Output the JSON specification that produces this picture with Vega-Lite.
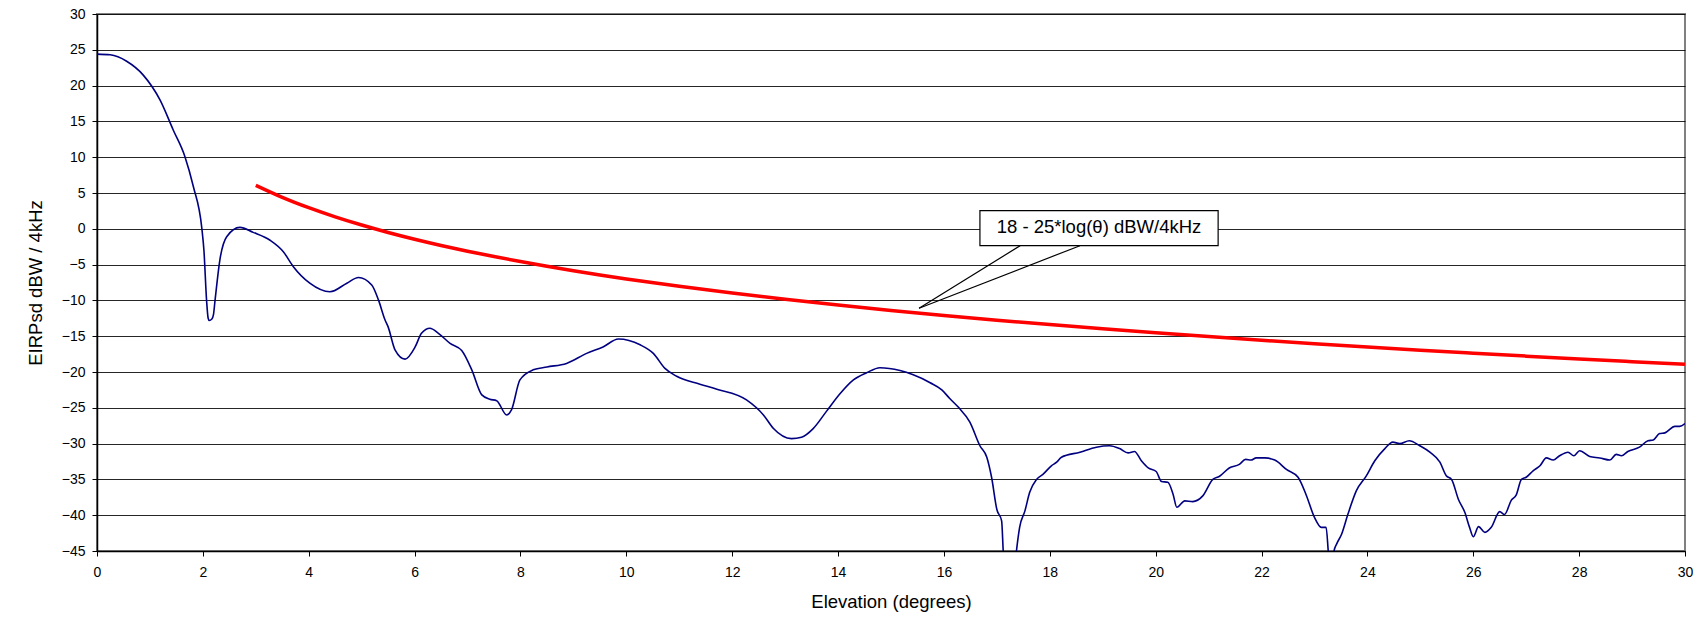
{
  "$schema": "https://vega.github.io/schema/vega-lite/v6.json",
  "description": "EIRPsd off-axis pattern vs 18 - 25log(theta) mask",
  "autosize": "none",
  "width": 1588,
  "height": 537,
  "padding": {"left": 97, "top": 14, "right": 21, "bottom": 88},
  "background": "white",
  "datasets": {
    "pattern": [
      {"elev": 0, "eirp": 24.4}, {"elev": 0.25, "eirp": 24.3}, {"elev": 0.56, "eirp": 23.4},
      {"elev": 0.87, "eirp": 21.5}, {"elev": 1.19, "eirp": 18.0}, {"elev": 1.44, "eirp": 13.8},
      {"elev": 1.66, "eirp": 10.1}, {"elev": 1.82, "eirp": 5.9}, {"elev": 1.98, "eirp": 0.1},
      {"elev": 2.02, "eirp": -3.0}, {"elev": 2.07, "eirp": -10.0}, {"elev": 2.10, "eirp": -12.5},
      {"elev": 2.12, "eirp": -12.8}, {"elev": 2.17, "eirp": -12.6}, {"elev": 2.20, "eirp": -12.0},
      {"elev": 2.23, "eirp": -10.0}, {"elev": 2.32, "eirp": -4.4}, {"elev": 2.45, "eirp": -1.1},
      {"elev": 2.70, "eirp": 0.2}, {"elev": 2.95, "eirp": -0.5}, {"elev": 3.27, "eirp": -1.6},
      {"elev": 3.52, "eirp": -3.2}, {"elev": 3.71, "eirp": -5.3}, {"elev": 4.02, "eirp": -7.6},
      {"elev": 4.40, "eirp": -8.8}, {"elev": 4.72, "eirp": -7.6}, {"elev": 4.94, "eirp": -6.8},
      {"elev": 5.19, "eirp": -7.85}, {"elev": 5.32, "eirp": -10.0}, {"elev": 5.44, "eirp": -12.7},
      {"elev": 5.50, "eirp": -13.7}, {"elev": 5.63, "eirp": -16.9}, {"elev": 5.82, "eirp": -18.2},
      {"elev": 6.01, "eirp": -16.5}, {"elev": 6.13, "eirp": -14.6}, {"elev": 6.29, "eirp": -13.9},
      {"elev": 6.45, "eirp": -14.6}, {"elev": 6.67, "eirp": -16.0}, {"elev": 6.89, "eirp": -17.0},
      {"elev": 7.08, "eirp": -19.7}, {"elev": 7.27, "eirp": -23.2}, {"elev": 7.42, "eirp": -23.8},
      {"elev": 7.55, "eirp": -24.0}, {"elev": 7.74, "eirp": -26.0}, {"elev": 7.83, "eirp": -25.3},
      {"elev": 7.99, "eirp": -21.1}, {"elev": 8.24, "eirp": -19.7}, {"elev": 8.50, "eirp": -19.3},
      {"elev": 8.87, "eirp": -18.8}, {"elev": 9.25, "eirp": -17.4}, {"elev": 9.56, "eirp": -16.5},
      {"elev": 9.85, "eirp": -15.4}, {"elev": 10.26, "eirp": -16.2}, {"elev": 10.51, "eirp": -17.4},
      {"elev": 10.73, "eirp": -19.5}, {"elev": 10.95, "eirp": -20.6}, {"elev": 11.39, "eirp": -21.7},
      {"elev": 11.71, "eirp": -22.4}, {"elev": 12.27, "eirp": -23.9}, {"elev": 12.59, "eirp": -26.0},
      {"elev": 12.78, "eirp": -27.9}, {"elev": 13.12, "eirp": -29.3}, {"elev": 13.31, "eirp": -29.1},
      {"elev": 13.53, "eirp": -27.9}, {"elev": 13.78, "eirp": -25.5}, {"elev": 14.04, "eirp": -23.0},
      {"elev": 14.29, "eirp": -21.1}, {"elev": 14.54, "eirp": -20.1}, {"elev": 14.79, "eirp": -19.4},
      {"elev": 15.17, "eirp": -19.8}, {"elev": 15.42, "eirp": -20.4}, {"elev": 15.74, "eirp": -21.5},
      {"elev": 15.96, "eirp": -22.5}, {"elev": 16.11, "eirp": -23.7}, {"elev": 16.27, "eirp": -24.9},
      {"elev": 16.49, "eirp": -27.0}, {"elev": 16.68, "eirp": -30.3}, {"elev": 16.81, "eirp": -31.9},
      {"elev": 16.90, "eirp": -34.7}, {"elev": 17.00, "eirp": -39.2}, {"elev": 17.09, "eirp": -40.8},
      {"elev": 17.12, "eirp": -45.0}, {"elev": 17.25, "eirp": -55.0}, {"elev": 17.37, "eirp": -45.0},
      {"elev": 17.43, "eirp": -41.7}, {"elev": 17.53, "eirp": -39.4}, {"elev": 17.62, "eirp": -36.8},
      {"elev": 17.75, "eirp": -35.0}, {"elev": 17.87, "eirp": -34.3}, {"elev": 18.03, "eirp": -33.1},
      {"elev": 18.13, "eirp": -32.6}, {"elev": 18.22, "eirp": -31.9}, {"elev": 18.57, "eirp": -31.2},
      {"elev": 18.88, "eirp": -30.5}, {"elev": 19.13, "eirp": -30.3}, {"elev": 19.32, "eirp": -30.7},
      {"elev": 19.48, "eirp": -31.3}, {"elev": 19.60, "eirp": -31.1}, {"elev": 19.73, "eirp": -32.4},
      {"elev": 19.86, "eirp": -33.4}, {"elev": 20.01, "eirp": -33.9}, {"elev": 20.11, "eirp": -35.3},
      {"elev": 20.23, "eirp": -35.4}, {"elev": 20.33, "eirp": -37.1}, {"elev": 20.40, "eirp": -38.9},
      {"elev": 20.55, "eirp": -38.0}, {"elev": 20.70, "eirp": -38.1}, {"elev": 20.89, "eirp": -37.3},
      {"elev": 21.08, "eirp": -35.0}, {"elev": 21.20, "eirp": -34.6}, {"elev": 21.39, "eirp": -33.4},
      {"elev": 21.58, "eirp": -32.9}, {"elev": 21.70, "eirp": -32.2}, {"elev": 21.80, "eirp": -32.3},
      {"elev": 21.90, "eirp": -32.0}, {"elev": 22.06, "eirp": -32.0}, {"elev": 22.25, "eirp": -32.3},
      {"elev": 22.47, "eirp": -33.6}, {"elev": 22.69, "eirp": -34.7}, {"elev": 22.84, "eirp": -37.1},
      {"elev": 23.00, "eirp": -40.3}, {"elev": 23.13, "eirp": -41.7}, {"elev": 23.22, "eirp": -41.7},
      {"elev": 23.26, "eirp": -45.0}, {"elev": 23.31, "eirp": -50.0}, {"elev": 23.37, "eirp": -45.0},
      {"elev": 23.42, "eirp": -44.0}, {"elev": 23.51, "eirp": -42.7}, {"elev": 23.63, "eirp": -39.9},
      {"elev": 23.79, "eirp": -36.6}, {"elev": 23.98, "eirp": -34.5}, {"elev": 24.14, "eirp": -32.4},
      {"elev": 24.33, "eirp": -30.7}, {"elev": 24.48, "eirp": -29.8}, {"elev": 24.61, "eirp": -30.0},
      {"elev": 24.79, "eirp": -29.6}, {"elev": 24.99, "eirp": -30.3}, {"elev": 25.18, "eirp": -31.2},
      {"elev": 25.37, "eirp": -32.6}, {"elev": 25.49, "eirp": -34.5}, {"elev": 25.59, "eirp": -35.0},
      {"elev": 25.72, "eirp": -37.8}, {"elev": 25.84, "eirp": -39.6}, {"elev": 25.93, "eirp": -41.7},
      {"elev": 26.00, "eirp": -43.0}, {"elev": 26.10, "eirp": -41.6}, {"elev": 26.22, "eirp": -42.4},
      {"elev": 26.34, "eirp": -41.7}, {"elev": 26.50, "eirp": -39.5}, {"elev": 26.59, "eirp": -39.9},
      {"elev": 26.72, "eirp": -37.9}, {"elev": 26.81, "eirp": -37.2}, {"elev": 26.91, "eirp": -35.0},
      {"elev": 27.00, "eirp": -34.7}, {"elev": 27.13, "eirp": -33.8}, {"elev": 27.26, "eirp": -33.1},
      {"elev": 27.38, "eirp": -32.0}, {"elev": 27.51, "eirp": -32.3}, {"elev": 27.63, "eirp": -31.7},
      {"elev": 27.79, "eirp": -31.2}, {"elev": 27.90, "eirp": -31.7}, {"elev": 28.01, "eirp": -31.0},
      {"elev": 28.20, "eirp": -31.8}, {"elev": 28.39, "eirp": -32.0}, {"elev": 28.58, "eirp": -32.3},
      {"elev": 28.70, "eirp": -31.5}, {"elev": 28.80, "eirp": -31.7}, {"elev": 28.92, "eirp": -31.1},
      {"elev": 29.14, "eirp": -30.5}, {"elev": 29.30, "eirp": -29.6}, {"elev": 29.40, "eirp": -29.5},
      {"elev": 29.52, "eirp": -28.6}, {"elev": 29.62, "eirp": -28.5}, {"elev": 29.81, "eirp": -27.6},
      {"elev": 29.90, "eirp": -27.6}, {"elev": 30.00, "eirp": -27.2}
    ],
    "mask": [
      {"elev": 3, "eirp": 6.072}, {"elev": 3.5, "eirp": 4.398}, {"elev": 4, "eirp": 2.949},
      {"elev": 4.5, "eirp": 1.670}, {"elev": 5, "eirp": 0.526}, {"elev": 5.5, "eirp": -0.509},
      {"elev": 6, "eirp": -1.454}, {"elev": 6.5, "eirp": -2.323}, {"elev": 7, "eirp": -3.127},
      {"elev": 7.5, "eirp": -3.877}, {"elev": 8, "eirp": -4.577}, {"elev": 8.5, "eirp": -5.236},
      {"elev": 9, "eirp": -5.856}, {"elev": 9.5, "eirp": -6.443}, {"elev": 10, "eirp": -7.0},
      {"elev": 11, "eirp": -8.035}, {"elev": 12, "eirp": -8.980}, {"elev": 13, "eirp": -9.849},
      {"elev": 14, "eirp": -10.653}, {"elev": 15, "eirp": -11.402}, {"elev": 16, "eirp": -12.103},
      {"elev": 17, "eirp": -12.761}, {"elev": 18, "eirp": -13.382}, {"elev": 19, "eirp": -13.969},
      {"elev": 20, "eirp": -14.526}, {"elev": 21, "eirp": -15.056}, {"elev": 22, "eirp": -15.561},
      {"elev": 23, "eirp": -16.043}, {"elev": 24, "eirp": -16.505}, {"elev": 25, "eirp": -16.949},
      {"elev": 26, "eirp": -17.374}, {"elev": 27, "eirp": -17.784}, {"elev": 28, "eirp": -18.179},
      {"elev": 29, "eirp": -18.560}, {"elev": 30, "eirp": -18.928}
    ],
    "callout": [
      {"label": "18 - 25*log(θ) dBW/4kHz", "x1": 16.68, "x2": 21.18, "y1": 2.53, "y2": -2.36, "tx": 18.93, "ty": 0.2}
    ],
    "leaders": [
      {"x1": 15.53, "y1": -11.1, "x2": 17.44, "y2": -2.36},
      {"x1": 15.53, "y1": -11.1, "x2": 18.57, "y2": -2.36}
    ]
  },
  "layer": [
    {
      "data": {"name": "pattern"},
      "mark": {"type": "line", "color": "#000080", "strokeWidth": 1.6, "interpolate": "monotone", "clip": true},
      "encoding": {
        "x": {
          "field": "elev",
          "type": "quantitative",
          "title": "Elevation (degrees)",
          "scale": {"domain": [0, 30], "nice": false},
          "axis": {
            "values": [0, 2, 4, 6, 8, 10, 12, 14, 16, 18, 20, 22, 24, 26, 28, 30],
            "tickCount": 40,
            "grid": false,
            "labelPadding": 9,
            "titlePadding": 13
          }
        },
        "y": {
          "field": "eirp",
          "type": "quantitative",
          "title": "EIRPsd dBW / 4kHz",
          "scale": {"domain": [-45, 30], "nice": false, "zero": false},
          "axis": {
            "values": [-45, -40, -35, -30, -25, -20, -15, -10, -5, 0, 5, 10, 15, 20, 25, 30],
            "tickCount": 40,
            "grid": true,
            "labelPadding": 7,
            "titlePadding": 16
          }
        }
      }
    },
    {
      "data": {"name": "mask"},
      "mark": {"type": "line", "color": "#ff0000", "strokeWidth": 3.5, "interpolate": "monotone", "clip": true},
      "encoding": {
        "x": {"field": "elev", "type": "quantitative"},
        "y": {"field": "eirp", "type": "quantitative"}
      }
    },
    {
      "data": {"name": "leaders"},
      "mark": {"type": "rule", "color": "#000000", "strokeWidth": 1.2},
      "encoding": {
        "x": {"field": "x1", "type": "quantitative"},
        "y": {"field": "y1", "type": "quantitative"},
        "x2": {"field": "x2"},
        "y2": {"field": "y2"}
      }
    },
    {
      "data": {"name": "callout"},
      "mark": {"type": "rect", "fill": "white", "stroke": "#000000", "strokeWidth": 1.2},
      "encoding": {
        "x": {"field": "x1", "type": "quantitative"},
        "x2": {"field": "x2"},
        "y": {"field": "y1", "type": "quantitative"},
        "y2": {"field": "y2"}
      }
    },
    {
      "data": {"name": "callout"},
      "mark": {"type": "text", "font": "Liberation Sans", "fontSize": 18.5, "color": "#000000", "align": "center", "baseline": "middle"},
      "encoding": {
        "x": {"field": "tx", "type": "quantitative"},
        "y": {"field": "ty", "type": "quantitative"},
        "text": {"field": "label"}
      }
    }
  ],
  "config": {
    "font": "Liberation Sans",
    "view": {"stroke": "#808080", "strokeWidth": 2},
    "axis": {
      "domainColor": "#000000",
      "domainWidth": 1.5,
      "tickColor": "#000000",
      "tickSize": 5,
      "tickWidth": 1,
      "gridColor": "#000000",
      "gridWidth": 1,
      "gridOpacity": 0.85,
      "labelFont": "Liberation Sans",
      "labelFontSize": 14,
      "labelColor": "#000000",
      "titleFont": "Liberation Sans",
      "titleFontSize": 18.5,
      "titleFontWeight": "normal",
      "titleColor": "#000000",
      "labelFlush": false,
      "labelOverlap": false
    }
  }
}
